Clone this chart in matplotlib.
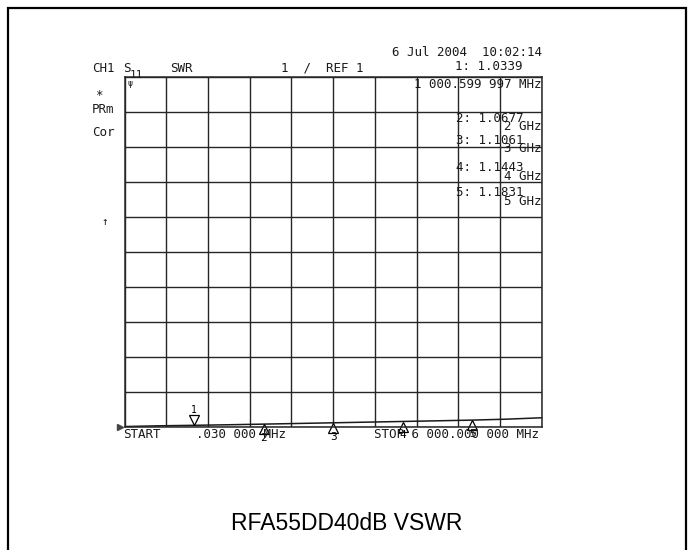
import matplotlib.pyplot as plt
import numpy as np
from matplotlib.transforms import offset_copy
from matplotlib.patches import Rectangle

# ---------------- dados ----------------
W, H = 693, 550

# frequencia (GHz) e VSWR do traco
freq = [0.03, 0.5, 1.0, 1.5, 2.0, 2.5, 3.0, 3.5, 4.0, 4.5, 5.0, 5.5, 6.0]
vswr = [1.0, 1.02, 1.034, 1.05, 1.068, 1.087, 1.106, 1.125, 1.144, 1.163, 1.183, 1.21, 1.25]

# marcadores
mk_num = ["1", "2", "3", "4", "5"]
mk_freq = [1.0006, 2.0, 3.0, 4.0, 5.0]
mk_vswr = [1.0339, 1.0677, 1.1061, 1.1443, 1.1831]
mk_txt = ["1.0339", "1.0677", "1.1061", "1.1443", "1.1831"]
mk_unit = ["1 000.599 997 MHz", "2 GHz", "3 GHz", "4 GHz", "5 GHz"]

x_min, x_max = 0, 6
ref, escala, ndiv = 1, 1, 10
titulo = "RFA55DD40dB VSWR"

mono = "DejaVu Sans Mono"
cor_grade = "#262626"
cor_traco = "#1a1a1a"

# ---------------- figura ----------------
fig = plt.figure(figsize=(W / 100, H / 100), dpi=100)


def px(x, y):
    # pixel da imagem -> fracao da figura
    return x / W, 1 - y / H


# moldura externa
fig.patches.append(Rectangle(px(8, 562), (686 - 8) / W, (562 - 8) / H,
                             transform=fig.transFigure, fill=False,
                             edgecolor="black", lw=1.6))

x0, y0 = px(124.5, 426.5)
x1, y1 = px(541.7, 77)
ax = fig.add_axes([x0, y0, x1 - x0, y1 - y0])

ax.plot(freq, vswr, color=cor_traco, lw=1.1, clip_on=False)

ax.set_xlim(x_min, x_max)
ax.set_ylim(ref, ref + escala * ndiv)
ax.set_xticks(np.linspace(x_min, x_max, ndiv + 1))
ax.set_yticks(np.arange(ref, ref + escala * ndiv + 1, escala))
ax.tick_params(length=0, labelbottom=False, labelleft=False)
ax.grid(True, color=cor_grade, lw=1.0)
for s in ax.spines.values():
    s.set_color(cor_grade)
    s.set_linewidth(1.1)

# referencia na esquerda
ax.plot([x_min], [ref], marker=">", ms=4, color="#444444",
        transform=offset_copy(ax.transData, fig=fig, x=-3, y=0, units="points"),
        clip_on=False)

# marcadores: 1 ativo (triangulo para baixo), demais para cima
ms = 7.5
tr_cima = offset_copy(ax.transData, fig=fig, x=0, y=ms / 2, units="points")
tr_baixo = offset_copy(ax.transData, fig=fig, x=0, y=-ms / 2, units="points")
for i in range(len(mk_num)):
    if i == 0:
        ax.plot(mk_freq[i], mk_vswr[i], marker="v", ms=ms, mfc="white",
                mec="black", mew=0.9, transform=tr_cima, clip_on=False)
        ax.annotate(mk_num[i], (mk_freq[i], mk_vswr[i]), xytext=(0, 11),
                    textcoords="offset points", ha="center", va="center",
                    family=mono, fontsize=7)
    else:
        ax.plot(mk_freq[i], mk_vswr[i], marker="^", ms=ms, mfc="white",
                mec="black", mew=0.9, transform=tr_baixo, clip_on=False)
        ax.annotate(mk_num[i], (mk_freq[i], mk_vswr[i]), xytext=(0, -10),
                    textcoords="offset points", ha="center", va="center",
                    family=mono, fontsize=8)

# ---------------- textos do analisador ----------------
def txt(x, y, s, ha="left", size=9, **kw):
    fig.text(*px(x, y), s, ha=ha, va="center", family=mono,
             fontsize=size, color="#1a1a1a", **kw)


txt(542, 53, "6 Jul 2004  10:02:14", ha="right")
txt(92, 68, "CH1")
txt(123, 68, "S")
txt(130, 75, "11", size=8)
txt(170, 68, "SWR")
txt(281, 68, "1  /  REF 1")
txt(455, 66, mk_num[0] + ": " + mk_txt[0])
txt(542, 84, mk_unit[0], ha="right")
txt(95, 95, "*", size=9)
txt(92, 109, "PRm")
txt(92, 132, "Cor")
txt(101, 222, "↑", size=8)
txt(128, 84, "ψ", size=6)

lin_val = [118, 141, 167, 193]
lin_uni = [126, 148, 176, 202]
for i in range(1, len(mk_num)):
    txt(456, lin_val[i - 1], mk_num[i] + ": " + mk_txt[i])
    txt(542, lin_uni[i - 1], mk_unit[i], ha="right")

txt(123, 435, "START")
txt(196, 435, ".030 000 MHz")
txt(539, 435, "STOP 6 000.000 000 MHz", ha="right")

fig.text(*px(347, 523), titulo, ha="center", va="center",
         family="Liberation Sans", fontsize=16.5, color="black")

fig.savefig("out.png", dpi=100, facecolor="white")
